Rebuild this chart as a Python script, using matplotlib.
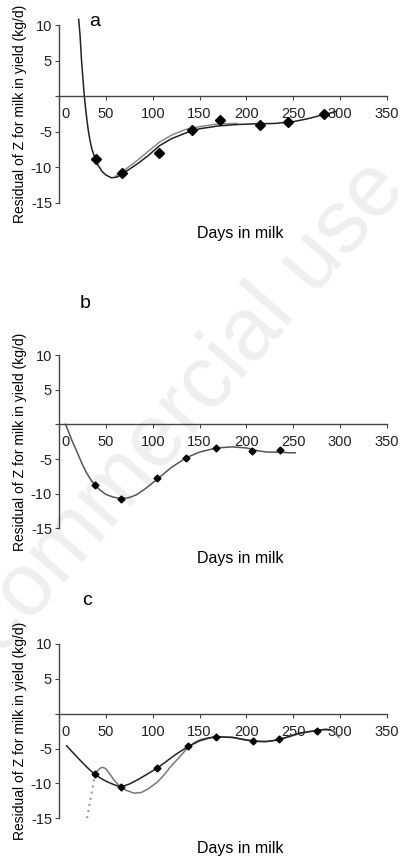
import matplotlib
matplotlib.use("Agg")
import matplotlib.pyplot as plt
from matplotlib.transforms import ScaledTranslation

plt.rcParams["font.family"] = ["Liberation Sans", "DejaVu Sans"]

# panel a: observed residuals and fitted curves
a_days = [39, 67, 107, 142, 172, 214, 244, 283]
a_obs = [-8.9, -10.8, -8.0, -4.8, -3.4, -4.0, -3.7, -2.5]
a_fit_days = [21, 22.5, 24, 25.5, 27, 29, 31, 33, 35, 37, 39, 42, 46, 50, 56, 62, 67, 75,
              85, 95, 107, 120, 135, 150, 170, 190, 210, 230, 250, 265, 280, 295]
a_fit = [10.8, 8.5, 5.1, 2.5, 0.0, -2.5, -4.6, -6.2, -7.4, -8.2, -8.9, -9.8, -10.6, -11.1,
         -11.5, -11.4, -11.0, -10.3, -9.4, -8.4, -7.0, -6.0, -5.2, -4.6, -4.2, -4.0, -3.9,
         -3.85, -3.6, -3.2, -2.7, -2.2]
a_alt_days = [60, 67, 75, 85, 95, 107, 120, 135, 150, 170, 190]
a_alt = [-11.3, -10.7, -9.9, -8.9, -7.8, -6.5, -5.5, -4.7, -4.3, -3.9, -3.85]

# panel b
b_days = [38, 66, 105, 136, 168, 206, 236]
b_obs = [-8.7, -10.7, -7.8, -4.8, -3.4, -3.9, -3.7]
b_fit_days = [7, 10, 14, 19, 24, 29, 34, 38, 44, 50, 58, 66, 74, 82, 92, 105, 120, 136,
              150, 168, 185, 200, 212, 222, 236, 245, 252]
b_fit = [0.0, -1.0, -2.4, -3.9, -5.5, -6.9, -8.0, -8.7, -9.5, -10.1, -10.5, -10.7, -10.6,
         -10.2, -9.3, -7.9, -6.2, -4.8, -4.0, -3.4, -3.25, -3.4, -3.8, -4.0, -4.0, -4.1, -4.1]

# panel c
c_days = [38, 66, 105, 138, 167, 207, 235, 275]
c_obs = [-8.7, -10.5, -7.8, -4.7, -3.3, -3.9, -3.7, -2.5]
c_fit_days = [8, 15, 22, 30, 38, 45, 52, 59, 66, 75, 85, 95, 105, 115, 125, 138, 150, 160,
              167, 185, 200, 207, 215, 221, 228, 235, 245, 256, 265, 275, 283, 290]
c_fit = [-4.6, -5.6, -6.6, -7.7, -8.7, -9.3, -9.8, -10.2, -10.5, -10.1, -9.4, -8.6, -7.8,
         -6.8, -5.8, -4.7, -3.9, -3.5, -3.3, -3.4, -3.8, -3.9, -4.0, -4.0, -3.9, -3.7, -3.3,
         -2.8, -2.6, -2.4, -2.3, -2.3]
c_alt_days = [38, 41, 44, 47, 50, 54, 58, 62, 66, 72, 80, 88, 95, 105, 112, 119, 126, 132,
              138, 145, 151, 160, 170, 185, 207, 221, 235, 256, 275, 285, 292, 299]
c_alt = [-8.7, -8.2, -7.8, -7.7, -7.9, -8.6, -9.4, -10.0, -10.5, -11.0, -11.4, -11.3,
         -10.8, -9.8, -8.8, -7.6, -6.6, -5.7, -4.8, -4.1, -3.7, -3.45, -3.35, -3.4, -3.9,
         -4.0, -3.7, -2.9, -2.4, -2.2, -2.5, -3.4]
c_dot_days = [30, 32, 34, 36, 38]
c_dot = [-15.0, -13.5, -12.0, -10.5, -9.0]

x_ticks = [0, 50, 100, 150, 200, 250, 300, 350]
y_ticks = [-15, -10, -5, 0, 5, 10]
y_labels = ["-15", "-10", "-5", "", "5", "10"]

fig = plt.figure(figsize=(4, 8.57), dpi=100)

# faint watermark behind the panels
fig.text(1.02, 0.78, "Non-commercial use", rotation=49, rotation_mode="anchor",
         ha="right", va="baseline", fontsize=64, color="#efefef", zorder=-1)

positions = [[0.1475, 0.7635, 0.82, 0.2073],
             [0.1475, 0.3835, 0.82, 0.2022],
             [0.1475, 0.0452, 0.82, 0.2034]]
letters = ["a", "b", "c"]
letter_pos = [(0.11, 1.02), (0.08, 1.30), (0.085, 1.25)]

axes = []
for pos, letter, lp in zip(positions, letters, letter_pos):
    ax = fig.add_axes(pos)
    ax.set_facecolor("none")
    ax.set_xlim(0, 350)
    ax.set_ylim(-15, 10)
    ax.spines["top"].set_visible(False)
    ax.spines["right"].set_visible(False)
    ax.spines["bottom"].set_position(("data", 0))
    for s in ["left", "bottom"]:
        ax.spines[s].set_color("#444444")
        ax.spines[s].set_linewidth(1.0)
    ax.set_xticks(x_ticks)
    ax.set_yticks(y_ticks)
    ax.set_yticklabels(y_labels)
    ax.tick_params(axis="both", labelsize=10.5, length=3, width=0.8, color="#444444",
                   labelcolor="#222222")
    ax.tick_params(axis="y", pad=2)
    ax.tick_params(axis="x", pad=5)
    # first x label sits a bit right of the axis, like the original
    lab0 = ax.get_xticklabels()[0]
    lab0.set_transform(lab0.get_transform() + ScaledTranslation(7 / 100, 0, fig.dpi_scale_trans))
    ax.set_ylabel("Residual of Z for milk in yield (kg/d)", fontsize=10)
    ax.yaxis.set_label_coords(-0.098, 0.5)
    ax.text(0.552, -0.175, "Days in milk", transform=ax.transAxes, fontsize=11.5,
            ha="center", va="center")
    ax.text(lp[0], lp[1], letter, transform=ax.transAxes, fontsize=14,
            ha="center", va="center")
    axes.append(ax)

ax_a, ax_b, ax_c = axes

ax_a.plot(a_alt_days, a_alt, color="#8a8a8a", lw=1.1)
ax_a.plot(a_fit_days, a_fit, color="#222222", lw=1.1, clip_on=False)
ax_a.plot(a_days, a_obs, "D", color="black", ms=5.5, ls="none")

ax_b.plot(b_fit_days, b_fit, color="#555555", lw=1.1)
ax_b.plot(b_days, b_obs, "D", color="black", ms=3.5, ls="none")

ax_c.plot(c_dot_days, c_dot, color="#999999", lw=1.5, ls=(0, (1, 2)))
ax_c.plot(c_alt_days, c_alt, color="#777777", lw=1.1)
ax_c.plot(c_fit_days, c_fit, color="#222222", lw=1.1)
ax_c.plot(c_days, c_obs, "D", color="black", ms=3.5, ls="none")

fig.savefig("out.png", dpi=100)
